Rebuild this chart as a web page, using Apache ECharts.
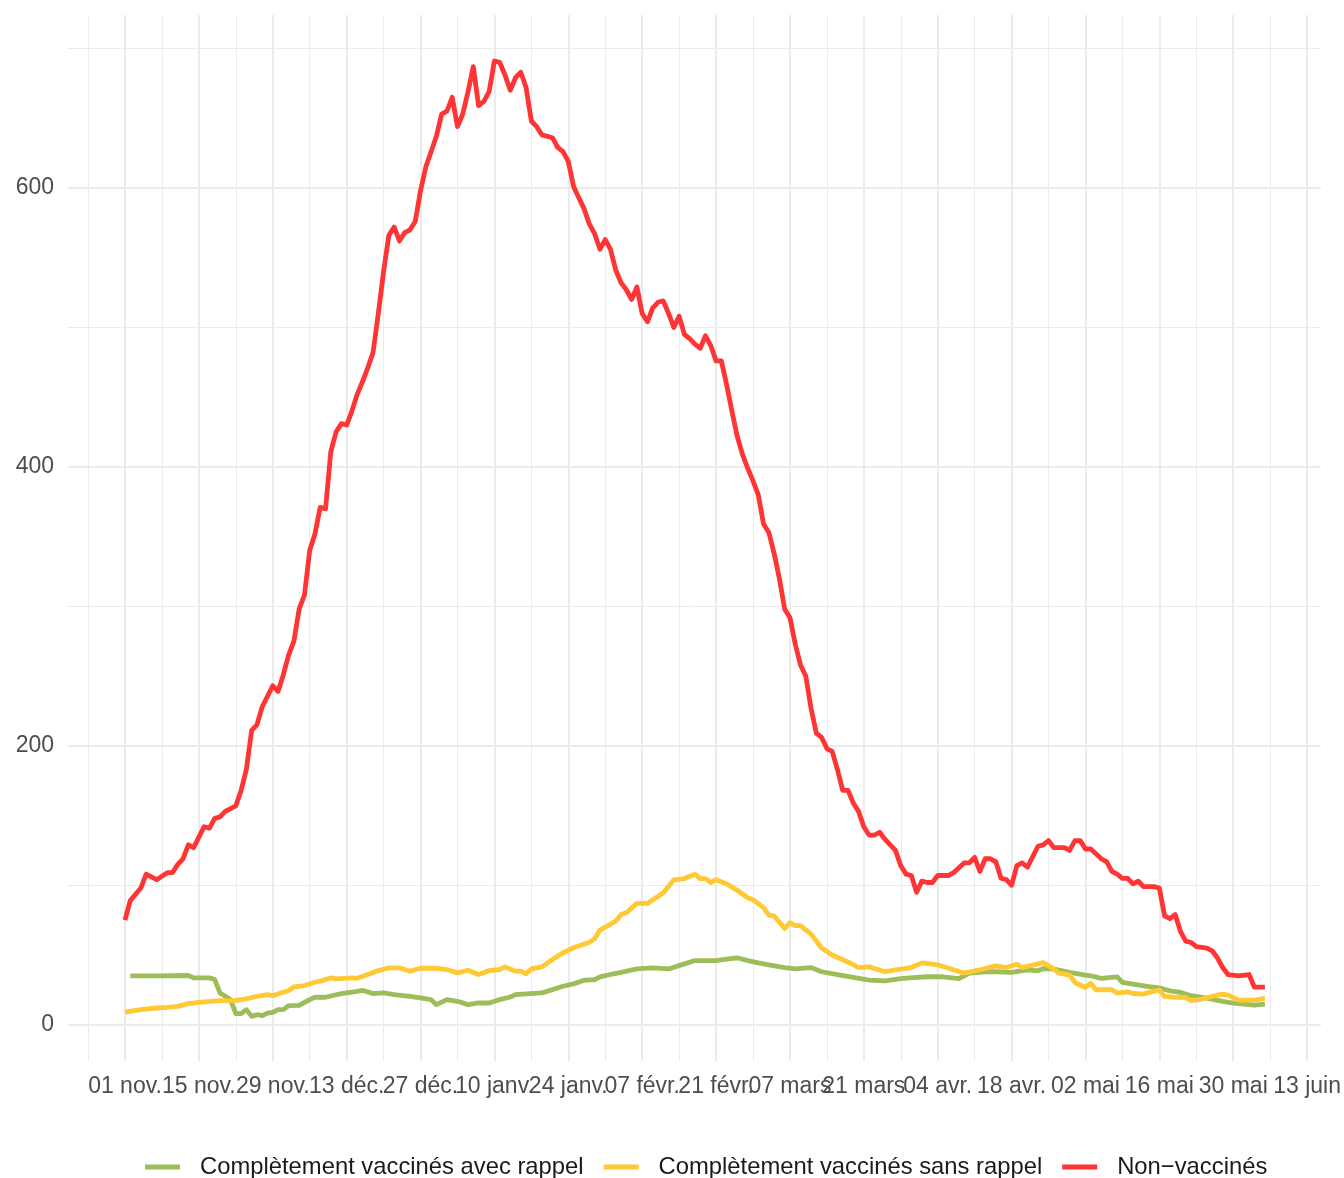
<!DOCTYPE html>
<html>
<head>
<meta charset="utf-8">
<script src="https://cdn.jsdelivr.net/npm/echarts@6/dist/echarts.min.js"></script>
<style>
  html, body { margin: 0; padding: 0; background: #ffffff; }
  #chart { width: 1344px; height: 1178px; }
</style>
</head>
<body>
<div id="chart"></div>
<script>
// x = days since 01 nov. 2021
const xTickDays = [0, 14, 28, 42, 56, 70, 84, 98, 112, 126, 140, 154, 168, 182, 196, 210, 224];
const xTickLabels = ['01 nov.', '15 nov.', '29 nov.', '13 déc.', '27 déc.', '10 janv.', '24 janv.', '07 févr.', '21 févr.', '07 mars', '21 mars', '04 avr.', '18 avr.', '02 mai', '16 mai', '30 mai', '13 juin'];
const xMinorDays = [-7, 7, 21, 35, 49, 63, 77, 91, 105, 119, 133, 147, 161, 175, 189, 203, 217];
const yTicks = [0, 200, 400, 600];
const yMinor = [100, 300, 500, 700];

const seriesNames = ['Complètement vaccinés avec rappel', 'Complètement vaccinés sans rappel', 'Non\u2212vaccinés'];

const avecRappel = [
  [1,35],[6,35],[12,35.3],[13,33.6],[16,33.6],[17,32.4],[18,22.8],[19,20.4],[20,18],[21,8],[22,8],[23,10.8],
  [24,6],[25,7.2],[26,6.5],[27,8.4],[28,8.9],[29,10.8],[30,10.8],[31,13.7],[33,13.9],[35,18],[36,19.7],[38,19.7],
  [41,22.3],[43,23.3],[45,24.7],[47,22.3],[49,22.8],[51,21.6],[54,20.4],[56,19.2],[58,18],[59,14.4],[61,18],
  [63,16.8],[65,14.4],[67,15.6],[69,15.6],[71,18],[73,19.9],[74,21.6],[79,22.8],[81,25.2],[83,27.6],[85,29.3],
  [87,31.9],[89,32.4],[90,34.3],[92,36],[94,37.6],[97,40],[100,40.8],[103,40],[105,42.4],[108,46],[112,46],
  [114,47],[116,48],[118,46],[120,44.4],[122,43],[125,41],[127,40],[130,41],[132,38],[135,36],[138,34],[141,32],
  [144,31.5],[147,33],[150,34],[152,34.4],[155,34.4],[158,33],[160,37],[163,38],[165,38],[168,37.5],[171,39.4],
  [173,38.7],[174,40.3],[176,39.9],[179,37.5],[182,35.6],[183,35.1],[185,33.2],[188,34.4],[189,30.3],[191,29.1],
  [194,27.4],[196,26.5],[198,24.3],[200,23.2],[202,20.8],[205,19.1],[208,16.7],[210,15.5],[212,14.8],[214,14.1],[216,14.8]
];

const sansRappel = [
  [0,9.1],[3,10.8],[6,12],[8,12.5],[10,13.2],[12,15.1],[14,16.1],[18,17.3],[21,17.5],[23,18.5],[25,20.4],[27,21.6],
  [28,20.9],[30,23.3],[31,24.5],[32,27.1],[34,28.1],[36,30.5],[37,31.2],[39,33.6],[40,32.9],[43,33.6],[44,33.3],
  [46,36],[48,38.8],[50,40.8],[52,40.8],[54,38.4],[56,40.5],[59,40.5],[61,39.6],[63,37.2],[65,39.1],[67,36],
  [69,38.8],[71,39.6],[72,41.5],[74,38.4],[75,38.4],[76,36.5],[77,40],[79,41.5],[81,46.8],[83,51.6],[85,55.2],
  [88,59.2],[89,61.6],[90,67.9],[93,74.3],[94,79.1],[95,80.3],[97,87],[99,87],[102,94.7],[104,103.8],[106,104.8],
  [108,107.9],[109,104.8],[110,104.8],[111,101.9],[112,104],[114,101],[116,96.4],[118,91],[119,89.6],[121,84],
  [122,78.6],[123,78],[125,69],[126,73.2],[127,71],[128,71],[130,65],[132,55],[134,50],[137,45],[139,41],
  [141,41.5],[144,38],[146,39.4],[149,41],[151,44.4],[154,43],[157,39.4],[159,37],[162,39.4],[165,42.2],[167,41],
  [169,43.4],[170,41],[172,42.7],[174,44.6],[176,39.9],[177,37],[179,35.6],[180,30.3],[182,26.7],[183,29.8],
  [184,25.1],[187,25.1],[188,22.7],[190,23.6],[191,22.4],[193,22],[194,23.2],[196,24.8],[197,20.3],[199,19.6],
  [201,19.6],[202,17.2],[204,18.4],[206,20.3],[208,22],[209,21.2],[211,17.7],[214,17.7],[216,18.9]
];

const nonVaccines = [
  [0,75],[1,89],[3,98],[4,108],[6,104],[8,109],[9,109],[10,115],[11,119],[12,129],[13,127],[15,142],[16,141],
  [17,148],[18,149],[19,153],[21,157],[22,168],[23,183],[24,211],[25,215],[26,228],[28,243],[29,239],[30,251],
  [31,265],[32,275],[33,298],[34,308],[35,340],[36,352],[37,371],[38,370],[39,411],[40,425],[41,431],[42,430],
  [43,440],[44,452],[45,461],[46,471],[47,482],[48,510],[49,540],[50,566],[51,572],[52,562],[53,568],[54,570],
  [55,576],[56,598],[57,615],[58,626],[59,637],[60,653],[61,655],[62,665],[63,644],[64,653],[65,669],[66,687],
  [67,659],[68,662],[69,669],[70,691],[71,690],[72,681],[73,670],[74,679],[75,683],[76,672],[77,648],[78,644],
  [79,638],[81,636],[82,629],[83,626],[84,619],[85,601],[86,593],[87,585],[88,574],[89,567],[90,556],[91,563],
  [92,556],[93,541],[94,532],[95,527],[96,520],[97,529],[98,510],[99,504],[100,514],[101,518],[102,519],[103,510],
  [104,500],[105,508],[106,495],[107,492],[108,488],[109,485],[110,494],[111,487],[112,476],[113,476],[114,459],
  [115,440],[116,422],[117,409],[118,399],[119,390],[120,380],[121,359],[122,353],[123,338],[124,320],[125,298],
  [126,292],[127,273],[128,258],[129,250],[130,227],[131,209],[132,206],[133,198],[134,196],[135,183],[136,168],
  [137,168],[138,159],[139,153],[140,142],[141,136],[142,136],[143,138],[144,133],[145,129],[146,125],[147,114],
  [148,108],[149,107],[150,95],[151,103],[152,102],[153,102],[154,107],[156,107],[157,109],[159,116],[160,116],
  [161,120],[162,110],[163,119],[164,119],[165,117],[166,105],[167,104],[168,100],[169,114],[170,116],[171,113],
  [173,128],[174,129],[175,132],[176,127],[178,127],[179,125],[180,132],[181,132],[182,126],[183,126],[185,119],
  [186,117],[187,110],[188,108],[189,105],[190,105],[191,101],[192,103],[193,99],[195,99],[196,98],[197,78],
  [198,76],[199,79],[200,67],[201,60],[202,59],[203,56],[205,55],[206,53],[207,48],[208,41],[209,36],[211,35],
  [213,36],[214,27],[216,27]
];

const colors = ['#9cbd58', '#ffc934', '#ff3535'];
const gridColor = '#ebebeb';
const font = 'Liberation Sans, Arial, Helvetica, sans-serif';

const gridLines = []
  .concat(yTicks.map(v => ({ yAxis: v, lineStyle: { width: 2 } })))
  .concat(yMinor.map(v => ({ yAxis: v, lineStyle: { width: 1 } })))
  .concat(xTickDays.map(v => ({ xAxis: v, lineStyle: { width: 2 } })))
  .concat(xMinorDays.map(v => ({ xAxis: v, lineStyle: { width: 1 } })));

const chart = echarts.init(document.getElementById('chart'), null, { renderer: 'canvas' });

function lineSeries(name, data, color, z) {
  return {
    name: name,
    type: 'line',
    data: data,
    showSymbol: false,
    symbol: 'none',
    smooth: false,
    z: z,
    lineStyle: { color: color, width: 4.8, join: 'round', cap: 'butt' },
    itemStyle: { color: color },
    emphasis: { disabled: true },
    animation: false
  };
}

chart.setOption({
  animation: false,
  backgroundColor: '#ffffff',
  grid: { left: 68, right: 14, top: 15, bottom: 117, containLabel: false },
  xAxis: {
    type: 'value',
    min: -10.8,
    max: 226.6,
    axisLine: { show: false },
    axisTick: { show: false },
    splitLine: { show: false },
    axisLabel: {
      customValues: xTickDays,
      interval: 0,
      hideOverlap: false,
      margin: 14,
      fontSize: 23,
      color: '#4d4d4d',
      fontFamily: font,
      formatter: function (v) {
        const i = xTickDays.indexOf(v);
        return i >= 0 ? xTickLabels[i] : '';
      }
    }
  },
  yAxis: {
    type: 'value',
    min: -26,
    max: 724,
    axisLine: { show: false },
    axisTick: { show: false },
    splitLine: { show: false },
    axisLabel: {
      customValues: yTicks,
      margin: 14,
      fontSize: 23,
      color: '#4d4d4d',
      fontFamily: font
    }
  },
  legend: {
    data: seriesNames,
    left: 140,
    top: 1150,
    orient: 'horizontal',
    icon: 'rect',
    itemWidth: 35,
    itemHeight: 5,
    itemGap: 20,
    selectedMode: false,
    textStyle: { fontSize: 23.8, color: '#1a1a1a', fontFamily: font, padding: [0, 0, 0, 15] }
  },
  series: [
    {
      name: 'grid',
      type: 'line',
      data: [],
      z: 0,
      silent: true,
      markLine: {
        silent: true,
        z: 0,
        symbol: ['none', 'none'],
        label: { show: false },
        lineStyle: { color: gridColor, type: 'solid' },
        emphasis: { disabled: true },
        data: gridLines,
        animation: false
      }
    },
    lineSeries(seriesNames[0], avecRappel, colors[0], 2),
    lineSeries(seriesNames[1], sansRappel, colors[1], 3),
    lineSeries(seriesNames[2], nonVaccines, colors[2], 4)
  ]
});
</script>
</body>
</html>
